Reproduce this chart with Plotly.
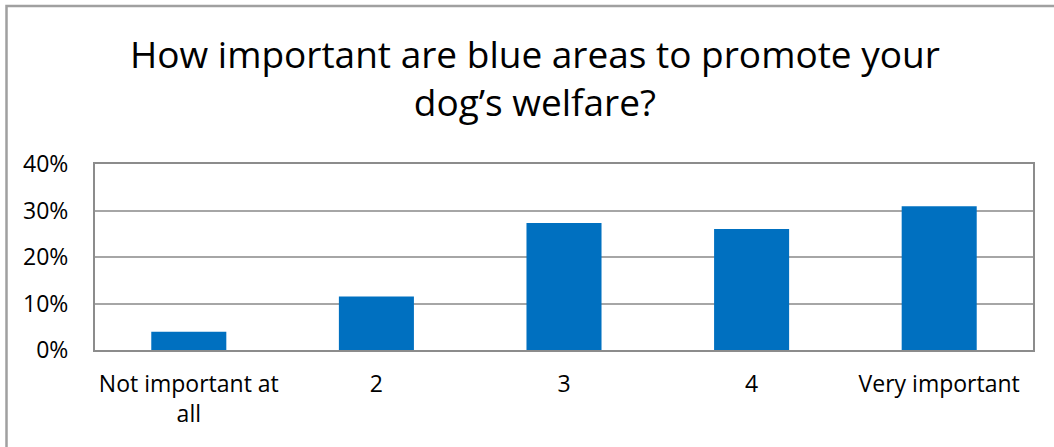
import plotly.graph_objects as go

# Survey answers on a 1-5 importance scale
categories = ["Not important at<br>all", "2", "3", "4", "Very important"]
shares = [0.039, 0.115, 0.273, 0.260, 0.309]

y_ticks = [0, 0.1, 0.2, 0.3, 0.4]
y_tick_labels = ["0%", "10%", "20%", "30%", "40%"]

title_text = "How important are blue areas to promote your<br>dog’s welfare?"

W, H = 1054, 447
L, R, T, B = 95, 21, 164, 97
plot_w = W - L - R
plot_h = H - T - B

FONT = "Open Sans"
BAR_BLUE = "#0070C0"
GRID = "#A6A6A6"
AXIS = "#8C8C8C"


def px_x(p):
    return (p - L) / plot_w


def px_y(p):
    return (H - B - p) / plot_h


fig = go.Figure(
    go.Bar(
        x=categories,
        y=shares,
        marker=dict(color=BAR_BLUE, line=dict(width=0)),
        hoverinfo="skip",
    )
)

# outer frame of the chart area (left and top edges)
fig.add_shape(
    type="path",
    xref="paper", yref="paper",
    path=f"M {px_x(6.5)} {px_y(H)} L {px_x(6.5)} {px_y(6)} L {px_x(W)} {px_y(6)}",
    line=dict(color="#A0A0A0", width=2.5),
)

# chart title
fig.add_annotation(
    text=title_text,
    xref="paper", yref="paper",
    x=px_x(535), y=px_y(26),
    xanchor="center", yanchor="top",
    showarrow=False,
    font=dict(family=FONT, size=37, color="black"),
)

fig.update_layout(
    width=W, height=H,
    margin=dict(l=L, r=R, t=T, b=B, pad=0),
    paper_bgcolor="white",
    plot_bgcolor="white",
    bargap=0.6,
    showlegend=False,
    font=dict(family=FONT, size=23, color="black"),
)

fig.update_xaxes(
    showline=True, linecolor=AXIS, linewidth=2, mirror=True,
    ticks="", showgrid=False,
    ticklabelstandoff=12,
    tickfont=dict(family=FONT, size=23, color="black"),
)
fig.update_yaxes(
    range=[0, 0.4],
    tickvals=y_ticks, ticktext=y_tick_labels,
    showgrid=True, gridcolor=GRID, gridwidth=1.5,
    showline=True, linecolor=AXIS, linewidth=2, mirror=True,
    ticks="",
    ticklabelstandoff=20,
    zeroline=False,
    tickfont=dict(family=FONT, size=23, color="black"),
)

fig.write_html("out.html")
